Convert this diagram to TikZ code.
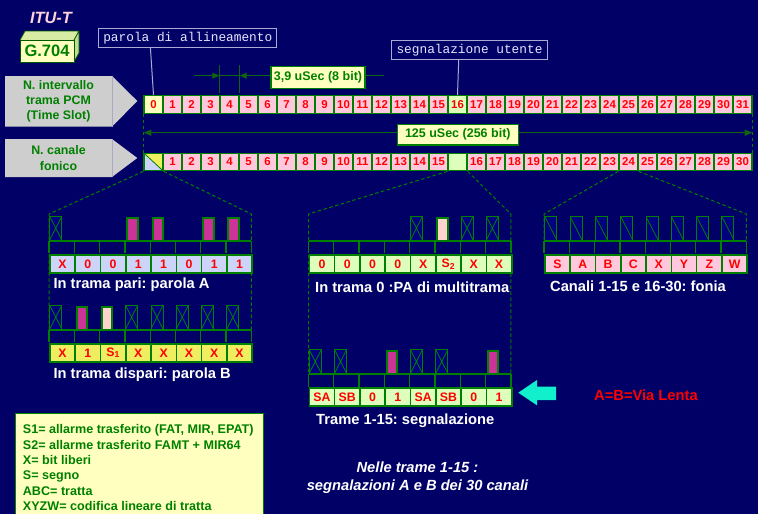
\documentclass[tikz,border=0pt]{standalone}
\usepackage{fontspec}
\setmainfont{Liberation Sans}
\newfontfamily\monof{Liberation Mono}
\usetikzlibrary{arrows.meta}
\frenchspacing
\definecolor{bgc}{RGB}{0,0,102}
\definecolor{gc}{RGB}{0,128,0}
\definecolor{linec}{RGB}{16,100,16}
\definecolor{pinkc}{RGB}{255,200,221}
\definecolor{lyel}{RGB}{255,255,192}
\definecolor{lgrn}{RGB}{221,255,187}
\definecolor{lblu}{RGB}{204,212,250}
\definecolor{yelc}{RGB}{238,238,96}
\definecolor{magc}{RGB}{204,51,153}
\definecolor{ppink}{RGB}{255,212,204}
\definecolor{boxb}{RGB}{0,0,128}
\definecolor{grayc}{RGB}{206,206,206}
\definecolor{grayl}{RGB}{170,170,200}
\definecolor{cyanc}{RGB}{16,240,204}
\definecolor{ituc}{RGB}{255,210,225}
\definecolor{monoc}{RGB}{230,230,255}
\definecolor{monob}{RGB}{170,170,210}
\newcommand\fs[1]{\fontsize{#1}{#1}\selectfont}
\tikzset{
 topcell/.style={draw=gc, line width=1.3pt, minimum width=19pt, minimum height=17.5pt, inner sep=0pt, text=red, font=\fs{11.4}\bfseries},
 gcell/.style={draw=gc, line width=1.6pt, anchor=north west, minimum width=25.3pt, minimum height=18pt, inner sep=0pt, text=red, font=\fs{12.3}\bfseries},
 pbase/.style={anchor=north west, inner sep=0pt, minimum width=12pt, minimum height=23.5pt},
 pulse-n/.style={pbase},
 pulse-x/.style={pbase, draw=gc, line width=0.9pt, fill=boxb, path picture={\draw[gc, line width=0.8pt] (path picture bounding box.north west) -- (path picture bounding box.south east) (path picture bounding box.north east) -- (path picture bounding box.south west);}},
 pulse-d/.style={pbase, draw=gc, line width=0.9pt, fill=boxb, path picture={\draw[gc, line width=0.8pt] (path picture bounding box.north west) -- (path picture bounding box.south east);}},
 pulse-m/.style={pbase, draw=gc, line width=2pt, fill=magc, minimum width=10.5pt, minimum height=22.5pt, xshift=1pt, yshift=-1pt},
 pulse-p/.style={pbase, draw=gc, line width=2pt, fill=ppink, minimum width=10.5pt, minimum height=22.5pt, xshift=1pt, yshift=-1pt},
 baseln/.style={gc, line width=2pt},
 tickln/.style={gc, line width=1.3pt},
 dsh/.style={gc, dash pattern=on 3.5pt off 2.5pt, line width=1pt},
 dimln/.style={linec, line width=1.2pt},
 dimbox/.style={draw=gc, line width=1.2pt, fill=lyel, text=gc, font=\fs{12.5}\bfseries, inner sep=0pt},
 monobox/.style={draw=monob, line width=1pt, text=monoc, font=\monof\fs{12.8}, inner sep=0pt},
 callout/.style={monob, line width=1pt},
 graylbl/.style={align=center, text=gc, font=\fontsize{12.4}{15.3}\selectfont\bfseries},
 wlbl/.style={anchor=west, inner sep=0pt, text=white, font=\fs{14.7}\bfseries},
}
\newcommand\pgroup[6]{%
 \foreach \ptype [count=\kk from 0] in {#4} {\node[pulse-\ptype] (#1p\kk) at ({#2+25.3*\kk+0.3},#3) {};}
 \coordinate (#1L) at (#2,#3+24.7);
 \coordinate (#1R) at (#2+202.4,#3+24.7);
 \draw[baseln] (#1L) -- (#1R);
 \foreach \kk in {0,...,8} {\draw[tickln] ({#2+25.3*\kk},#3+24.7) -- ++(0,12.6);}
 \foreach \lab [count=\kk from 0] in {#5} {\node[gcell, fill=#6] (#1c\kk) at ({#2+25.3*\kk},#3+38) {\lab};}
}
\begin{document}
\begin{tikzpicture}[x=1pt,y=-1pt]
\useasboundingbox (0,0) rectangle (758,514);
\fill[bgc] (0,0) rectangle (758,514);
% title
\node[text=ituc, font=\fs{16.3}\bfseries\itshape] (itu) at (51,18.3) {ITU-T};
\fill[lyel!85!gc] (20,40) -- (25,31) -- (79,31) -- (74,40) -- cycle;
\fill[lyel!75!gc] (74,40) -- (79,31) -- (79,53) -- (74,62) -- cycle;
\draw[gc!70!black, line width=0.8pt] (20,40) -- (25,31) -- (79,31) -- (79,53) -- (74,62) (74,40) -- (79,31);
\node[draw=gc!70!black, line width=0.8pt, fill=lyel, minimum width=54pt, minimum height=22pt, inner sep=0pt, text=gc, font=\fs{16.5}\bfseries] (g704) at (47,51) {G.704};
% gray labels
\fill[grayc] (5,76) -- (112,76) -- (137.3,101) -- (112,126.7) -- (5,126.7) -- cycle;
\draw[grayl, line width=0.6pt] (112,76) -- (112,126.7);
\node[graylbl] (lab1) at (58.5,101.3) {N. intervallo\\trama PCM\\(Time Slot)};
\fill[grayc] (5,139) -- (112,139) -- (137.3,158) -- (112,177) -- (5,177) -- cycle;
\draw[grayl, line width=0.6pt] (112,139) -- (112,177);
\node[graylbl] (lab2) at (58.5,158) {N. canale\\fonico};
% row 1
\node[topcell, fill=lyel] (t0) at (153.5,104.5) {0};
\foreach \i in {1,...,15,17,18,...,31} {\node[topcell, fill=pinkc] (t\i) at (153.5+19*\i,104.5) {\i};}
\node[topcell, fill=lgrn] (t16) at (153.5+19*16,104.5) {16};
% row 2
\fill[lblu] (144,153.25) -- (163,170.75) -- (144,170.75) -- cycle;
\fill[yelc] (144,153.25) -- (163,153.25) -- (163,170.75) -- cycle;
\node[topcell] (b0) at (153.5,162) {};
\draw[gc, line width=0.8pt] (b0.north west) -- (b0.south east);
\foreach \i in {1,...,15} {\node[topcell, fill=pinkc] (b\i) at (153.5+19*\i,162) {\i};}
\node[topcell, fill=lgrn] (b16) at (153.5+19*16,162) {};
\foreach \i [evaluate=\i as \j using int(\i-1)] in {17,...,31} {\node[topcell, fill=pinkc] (b\i) at (153.5+19*\i,162) {\j};}
% callouts
\node[monobox, minimum width=177.7pt, minimum height=19.4pt] (pa) at (187.8,38) {parola di allineamento};
\draw[callout] ([xshift=52pt]pa.south west) -- (t0.north);
\node[monobox, minimum width=155.6pt, minimum height=18.6pt] (su) at (469.5,50) {segnalazione utente};
\draw[callout] ([xshift=67.5pt]su.south west) -- (t16.north);
% 3,9 usec
\coordinate (d1) at (194,75.7);
\coordinate (d2) at (384,75.7);
\draw[dimln] ([yshift=2pt]t4.north west) -- ++(0,-28);
\draw[dimln] ([yshift=2pt]t4.north east) -- ++(0,-28);
\draw[dimln, -{Triangle[length=7pt,width=6pt]}] (d1) -- (d1 -| t4.north west);
\draw[dimln, -{Triangle[length=7pt,width=6pt]}] (d2) -- (d2 -| t4.north east);
\draw[dimln] (d1 -| t4.north west) -- (d1 -| t4.north east);
\node[dimbox, minimum width=94pt, minimum height=21.6pt] (u39) at (318,77.5) {3,9 uSec (8 bit)};
% 125 usec
\draw[dsh] (t0.south west) -- (b0.north west);
\draw[dsh] (t31.south east) -- (b31.north east);
\coordinate (c125) at (458,132.7);
\draw[dimln, {Triangle[length=8pt,width=6pt]}-{Triangle[length=8pt,width=6pt]}] (c125 -| t0.west) -- (c125 -| t31.east);
\node[dimbox, minimum width=121pt, minimum height=20.7pt] (u125) at (457.8,134.7) {125 uSec (256 bit)};
% dashed expansions
\coordinate (gLtl) at (49,214); \coordinate (gLtr) at (251.4,214);
\coordinate (gMtl) at (308.5,214); \coordinate (gMtr) at (510.9,214);
\coordinate (gRtl) at (544,214); \coordinate (gRtr) at (746.4,214);
\coordinate (gLbl) at (49,329.7); \coordinate (gLbr) at (251.4,329.7);
\coordinate (gMbl) at (308.5,374); \coordinate (gMbr) at (510.9,374);
\coordinate (gRbl) at (544,240.7); \coordinate (gRbr) at (746.4,240.7);
\draw[dsh] (b0.south west) -- (gLtl) -- (gLbl);
\draw[dsh] (b0.south east) -- (gLtr) -- (gLbr);
\draw[dsh] (b16.south west) -- (gMtl) -- (gMbl);
\draw[dsh] (b16.south east) -- (gMtr) -- (gMbr);
\draw[dsh] (b25.south west) -- (gRtl) -- (gRbl);
\draw[dsh] (b25.south east) -- (gRtr) -- (gRbr);
% groups
\pgroup{gA}{49}{216}{x,n,n,m,m,n,m,m}{X,0,0,1,1,0,1,1}{lblu}
\pgroup{gB}{49}{305}{x,m,p,x,x,x,x,x}{X,1,S\textsubscript{1},X,X,X,X,X}{yelc}
\pgroup{gC}{308.5}{216}{n,n,n,n,x,p,x,x}{0,0,0,0,X,S\textsubscript{2},X,X}{lgrn}
\pgroup{gD}{308.5}{349.3}{x,x,n,m,x,x,n,m}{SA,SB,0,1,SA,SB,0,1}{lgrn}
\pgroup{gR}{544}{216}{d,d,d,d,d,d,d,d}{S,A,B,C,X,Y,Z,W}{pinkc}
% labels
\node[wlbl] (la) at (53.3,284.3) {In trama pari: parola A};
\node[wlbl] (lb) at (53.3,375) {In trama dispari: parola B};
\node[wlbl] (lc) at (315,287.3) {In trama 0 :PA di multitrama};
\node[wlbl] (ld) at (316,421) {Trame 1-15: segnalazione};
\node[wlbl] (lr) at (550,286.7) {Canali 1-15 e 16-30: fonia};
% cyan arrow
\fill[cyanc] (518.3,392.7) -- (537,380) -- (537,386.7) -- (556,386.7) -- (556,400) -- (537,400) -- (537,405.3) -- cycle;
\node[wlbl, text=red] (vl) at (594,395) {A=B=Via Lenta};
% legend
\draw[gc, line width=1pt, fill=lyel] (15,413.3) rectangle (263.3,520);
\node[anchor=north west, align=left, inner sep=0pt, text=gc, font=\fontsize{12.6}{15.4}\selectfont\bfseries] (leg) at (22.7,424.3) {S1= allarme trasferito (FAT, MIR, EPAT)\\S2= allarme trasferito FAMT + MIR64\\X= bit liberi\\S= segno\\ABC= tratta\\XYZW= codifica lineare di tratta};
% italic note
\node[text=white, font=\fontsize{14.7}{17.7}\selectfont\bfseries\itshape, align=center] (note) at (417.5,477.8) {Nelle trame 1-15 :\\segnalazioni A e B dei 30 canali};
\end{tikzpicture}
\end{document}
